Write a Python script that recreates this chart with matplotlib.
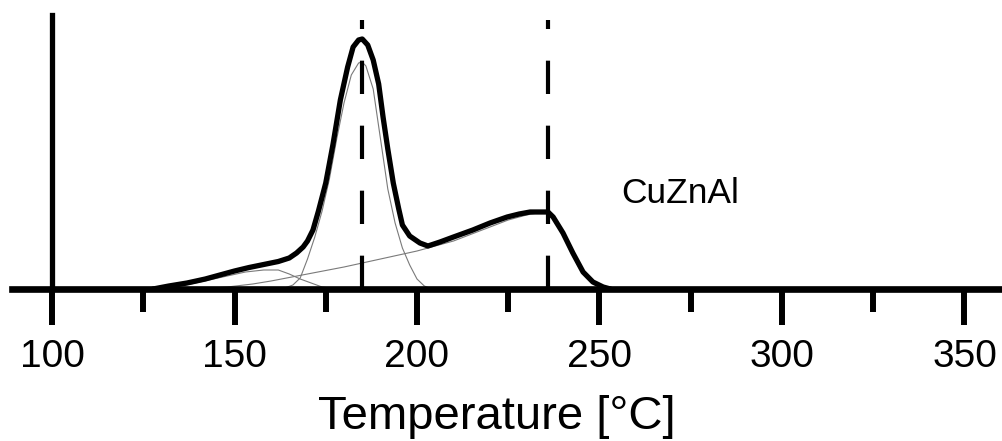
import numpy as np
import matplotlib.pyplot as plt

plt.rcParams['font.family'] = ['Liberation Sans', 'DejaVu Sans']

# measured TPR signal (a.u.) vs temperature
temp = [127.7, 132, 137, 142, 146, 150, 154, 158, 162, 165, 167, 168.8, 170, 171.5,
        173, 175, 177, 179, 181, 182.5, 184, 185, 186.5, 188, 189.5, 190.7, 192,
        193.5, 195, 196, 198, 200.8, 203, 206.3, 210, 215.3, 220, 224.7, 228, 231,
        234, 235.9, 237.3, 240, 242.7, 245.5, 248.2, 251, 253]
signal = [0, 3, 6, 10, 14, 18, 21.5, 24.5, 27.5, 31, 36, 42, 48, 59,
          78, 106, 145, 189, 222, 242, 249, 250, 244, 229, 205, 172, 140,
          106, 80, 64, 53, 46, 43, 47, 52, 59, 66, 72, 75, 77,
          77, 77, 72, 56, 36, 17, 7, 2, 0]

# deconvoluted components
t_low = [128, 133, 138, 143, 148, 153, 158, 162, 165, 168, 171, 174, 178]
s_low = [0, 2, 5, 9, 13, 17, 19, 19, 15, 10, 6, 2, 0]

t_mid = [163, 166, 168, 170, 172, 174, 176, 178, 180, 182, 184, 185, 186, 188,
         190, 192, 194, 196, 198, 200, 202, 204]
s_mid = [0, 4, 11, 30, 52, 78, 110, 150, 186, 214, 226, 227, 223, 200,
         150, 100, 66, 41, 24, 10, 3, 0]

t_high = [140, 148, 155, 160, 170, 180, 190, 200, 205, 210, 215, 220, 225, 230,
          233, 236, 238, 240, 242, 244, 246, 248, 250, 253]
s_high = [0, 2, 5, 8, 15, 22, 30, 38, 43, 48, 55, 62, 69, 74,
          76, 76, 66, 53, 38, 24, 14, 7, 3, 0]

peaks = [185, 236]
major_ticks = [100, 150, 200, 250, 300, 350]
minor_ticks = [125, 175, 225, 275, 325]

fig = plt.figure(figsize=(10.03, 4.41), dpi=100)
ax = fig.add_axes([12 / 1003, 152 / 441, 991 / 1003, 279 / 441])

for t, s in [(t_low, s_low), (t_mid, s_mid), (t_high, s_high)]:
    ax.plot(t, s, color='#7a7a7a', lw=0.8, zorder=2)

ax.plot(temp, signal, color='black', lw=3.8, solid_joinstyle='round',
        solid_capstyle='round', zorder=3)

# peak positions, dashes start at the baseline
for p in peaks:
    ax.plot([p, p], [0, 269], color='black', lw=3, dashes=(8, 7.6),
            solid_capstyle='butt', zorder=4)

ax.text(256, 86, 'CuZnAl', fontsize=25.5, va='baseline', ha='left')

ax.set_xlim(89.04, 360.55)
ax.set_ylim(0, 279)

for side in ['top', 'right']:
    ax.spines[side].set_visible(False)
ax.spines['bottom'].set_linewidth(4.8)
ax.spines['left'].set_linewidth(3.8)
ax.spines['left'].set_position(('data', 100))
ax.spines['left'].set_bounds(0, 274)

ax.set_yticks([])
ax.set_xticks(major_ticks)
ax.set_xticks(minor_ticks, minor=True)
ax.tick_params(axis='x', which='major', direction='out', length=26, width=4.3,
               labelsize=28, pad=10)
ax.tick_params(axis='x', which='minor', direction='out', length=16.5, width=4.3)
ax.patch.set_alpha(0)

fig.text(497 / 1003, 12 / 441, 'Temperature [°C]', fontsize=34,
         ha='center', va='baseline')

fig.savefig('out.png', dpi=100)
